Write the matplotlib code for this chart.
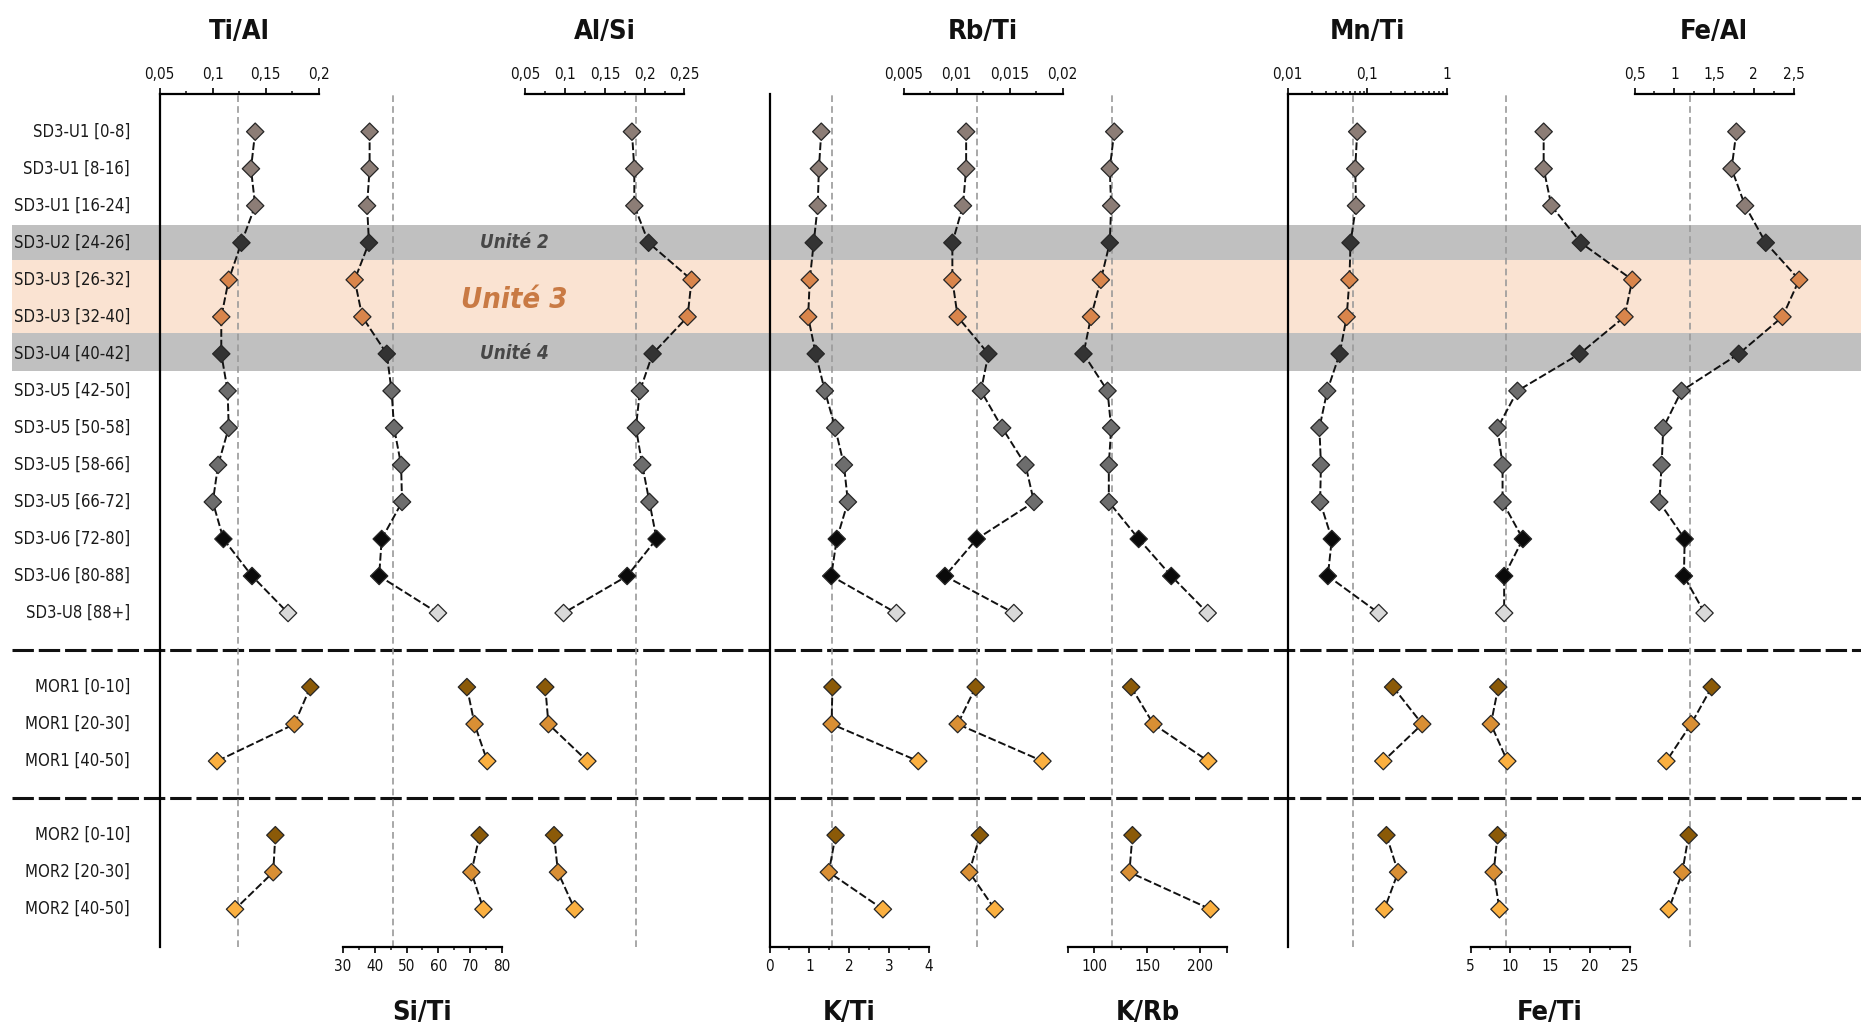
import os
import matplotlib
matplotlib.use('Agg')
import matplotlib.pyplot as plt
import matplotlib.font_manager as fm
from matplotlib.font_manager import FontProperties
from matplotlib.ticker import FixedLocator, FixedFormatter, NullFormatter
import numpy as np

# ---------------- data ----------------
sd3_labels = ['SD3-U1 [0-8]', 'SD3-U1 [8-16]', 'SD3-U1 [16-24]', 'SD3-U2 [24-26]',
              'SD3-U3 [26-32]', 'SD3-U3 [32-40]', 'SD3-U4 [40-42]', 'SD3-U5 [42-50]',
              'SD3-U5 [50-58]', 'SD3-U5 [58-66]', 'SD3-U5 [66-72]', 'SD3-U6 [72-80]',
              'SD3-U6 [80-88]', 'SD3-U8 [88+]']
mor1_labels = ['MOR1 [0-10]', 'MOR1 [20-30]', 'MOR1 [40-50]']
mor2_labels = ['MOR2 [0-10]', 'MOR2 [20-30]', 'MOR2 [40-50]']

# values in order: 14 SD3 rows, 3 MOR1 rows, 3 MOR2 rows
ti_al = [0.140, 0.136, 0.140, 0.127, 0.115, 0.108, 0.108, 0.114, 0.115, 0.105, 0.100, 0.110, 0.137, 0.171,
         0.192, 0.177, 0.104, 0.159, 0.157, 0.121]
si_ti = [38.4, 38.4, 37.6, 38.2, 33.7, 36.1, 43.8, 45.3, 46.1, 48.3, 48.6, 42.2, 41.4, 59.9,
         69.0, 71.4, 75.4, 73.0, 70.4, 74.2]
al_si = [0.184, 0.187, 0.187, 0.205, 0.259, 0.254, 0.210, 0.194, 0.189, 0.197, 0.206, 0.215, 0.178, 0.098,
         0.075, 0.079, 0.128, 0.086, 0.091, 0.112]
k_ti = [1.30, 1.24, 1.21, 1.11, 1.01, 0.97, 1.16, 1.39, 1.65, 1.87, 1.97, 1.69, 1.55, 3.19,
        1.58, 1.56, 3.74, 1.66, 1.49, 2.85]
rb_ti = [0.0109, 0.0109, 0.0106, 0.0096, 0.0096, 0.0101, 0.0130, 0.0123, 0.0143, 0.0165, 0.0173, 0.0119, 0.0089, 0.0154,
         0.0118, 0.0101, 0.0181, 0.0122, 0.0112, 0.0136]
k_rb = [118.7, 114.5, 115.8, 114.5, 106.1, 96.8, 89.7, 112.4, 115.8, 113.6, 113.6, 141.8, 172.5, 206.9,
        134.7, 155.7, 207.4, 135.9, 133.0, 209.5]
mn_ti = [0.0746, 0.0705, 0.0721, 0.0615, 0.0596, 0.0550, 0.0449, 0.0313, 0.0250, 0.0261, 0.0255, 0.0358, 0.0319, 0.139,
         0.211, 0.491, 0.159, 0.174, 0.244, 0.164]
fe_ti = [14.19, 14.19, 15.16, 18.86, 25.34, 24.36, 18.71, 10.89, 8.39, 9.02, 9.02, 11.58, 9.22, 9.22,
         8.48, 7.55, 9.62, 8.39, 7.90, 8.63]
fe_al = [1.78, 1.72, 1.89, 2.15, 2.57, 2.36, 1.81, 1.09, 0.86, 0.84, 0.81, 1.13, 1.12, 1.38,
         1.47, 1.21, 0.90, 1.18, 1.10, 0.93]

# reference (dashed) values
ref_values = {'Ti/Al': 0.124, 'Si/Ti': 45.8, 'Al/Si': 0.189, 'K/Ti': 1.56, 'Rb/Ti': 0.0119,
              'K/Rb': 117.0, 'Mn/Ti': 0.0667, 'Fe/Ti': 9.45, 'Fe/Al': 1.20}

sd3_colors = ['#8c7d76'] * 3 + ['#333333'] + ['#d9854b'] * 2 + ['#333333'] + ['#6d6d6d'] * 4 + \
             ['#0a0a0a'] * 2 + ['#d9d9d9']
mor_colors = ['#8b5a08', '#d98f34', '#fbb040']


# ---------------- fonts (condensed if available) ----------------
WEIGHT_WORDS = ['light', 'thin', 'medium', 'black', 'semibold', 'extrabold', 'heavy', 'demi',
                'extracondensed', 'ultracondensed', 'mono', 'serif', 'display']
PREFS = ['liberationsansnarrow', 'notosans-condensed', 'dejavusanscondensed', 'robotocondensed',
         'opensans-condensed', 'opensanscondensed', 'notosans-semicondensed', 'dejavusans-condensed']


def pick_font(bold, italic):
    best, best_rank = None, 99
    for f in fm.fontManager.ttflist:
        b = os.path.basename(f.fname).lower().replace(' ', '').replace('_', '-')
        if not ('condensed' in b or 'narrow' in b):
            continue
        if any(w in b for w in WEIGHT_WORDS):
            continue
        fb = 'bold' in b
        fi = ('italic' in b) or ('oblique' in b)
        if fb != bold or fi != italic:
            continue
        rank = next((k for k, p in enumerate(PREFS) if b.startswith(p)), None)
        if rank is None:
            continue
        if rank < best_rank:
            best, best_rank = f.fname, rank
    return best


def fprop(size, bold=False, italic=False):
    path = pick_font(bold, italic)
    if path:
        return FontProperties(fname=path, size=size)
    return FontProperties(family=['Liberation Sans', 'DejaVu Sans'], size=size * 0.86,
                          weight='bold' if bold else 'normal', style='italic' if italic else 'normal')


fp_row = fprop(12)
fp_tick = fprop(11)
fp_title = fprop(19.5, bold=True)
fp_unit = fprop(13.5, bold=True, italic=True)
fp_unit3 = fprop(21, bold=True, italic=True)

# ---------------- layout ----------------
W, H = 1861, 1032
fig = plt.figure(figsize=(W / 100, H / 100), dpi=100)

AX_TOP_PX, AX_BOT_PX = 94.3, 947.0
Y_TOP, Y_BOT = -1.01, 22.02
ppr = (AX_BOT_PX - AX_TOP_PX) / (Y_BOT - Y_TOP)
AXW = 159.0

sd3_y = np.arange(14)
mor1_y = np.arange(15, 18)
mor2_y = np.arange(19, 22)
all_y = list(sd3_y) + list(mor1_y) + list(mor2_y)

bg = fig.add_axes([0, 0, 1, 1], zorder=0)
bg.set_xlim(0, W)
bg.set_ylim(Y_BOT + (H - AX_BOT_PX) / ppr, Y_TOP - AX_TOP_PX / ppr)
bg.axis('off')

# bands
bg.axhspan(2.53, 3.47, xmin=12 / W, xmax=1, color='#c0c0c0', lw=0, zorder=0)
bg.axhspan(3.47, 5.45, xmin=12 / W, xmax=1, color='#fae3d2', lw=0, zorder=0)
bg.axhspan(5.45, 6.46, xmin=12 / W, xmax=1, color='#c0c0c0', lw=0, zorder=0)
# separators
for ysep in (14, 18):
    bg.axhline(ysep, xmin=12 / W, xmax=1, color='#111111', lw=2.2, ls=(0, (7, 1.6)), zorder=1)

# row labels
for lab, y in zip(sd3_labels + mor1_labels + mor2_labels, all_y):
    bg.text(130, y, lab, ha='right', va='center', fontproperties=fp_row, color='#1a1a1a', zorder=2)

bg.text(514, 3, 'Unité 2', ha='center', va='center', fontproperties=fp_unit, color='#474747', zorder=2)
bg.text(514, 6, 'Unité 4', ha='center', va='center', fontproperties=fp_unit, color='#474747', zorder=2)
bg.text(514, 4.55, 'Unité 3', ha='center', va='center', fontproperties=fp_unit3, color='#c97a44', zorder=2)

variables = [
    # name, values, left px, lims, position, ticks, ticklabels, minor, log, show_left
    ('Ti/Al', ti_al, 159.8, (0.05, 0.2), 'top', [0.05, 0.1, 0.15, 0.2], ['0,05', '0,1', '0,15', '0,2'],
     [0.075, 0.125, 0.175], False, True),
    ('Si/Ti', si_ti, 342.9, (30, 80), 'bottom', [30, 40, 50, 60, 70, 80], ['30', '40', '50', '60', '70', '80'],
     [35, 45, 55, 65, 75], False, False),
    ('Al/Si', al_si, 525.4, (0.05, 0.25), 'top', [0.05, 0.1, 0.15, 0.2, 0.25],
     ['0,05', '0,1', '0,15', '0,2', '0,25'], [0.075, 0.125, 0.175, 0.225], False, False),
    ('K/Ti', k_ti, 769.6, (0, 4), 'bottom', [0, 1, 2, 3, 4], ['0', '1', '2', '3', '4'],
     [0.5, 1.5, 2.5, 3.5], False, True),
    ('Rb/Ti', rb_ti, 903.6, (0.005, 0.02), 'top', [0.005, 0.01, 0.015, 0.02],
     ['0,005', '0,01', '0,015', '0,02'], [0.0075, 0.0125, 0.0175], False, False),
    ('K/Rb', k_rb, 1067.9, (75, 225), 'bottom', [75, 100, 150, 200, 225], ['', '100', '150', '200', ''],
     [125, 175], False, False),
    ('Mn/Ti', mn_ti, 1287.8, (0.01, 1), 'top', [0.01, 0.1, 1], ['0,01', '0,1', '1'],
     None, True, True),
    ('Fe/Ti', fe_ti, 1470.6, (5, 25), 'bottom', [5, 10, 15, 20, 25], ['5', '10', '15', '20', '25'],
     [7.5, 12.5, 17.5, 22.5], False, False),
    ('Fe/Al', fe_al, 1634.6, (0.5, 2.5), 'top', [0.5, 1, 1.5, 2, 2.5], ['0,5', '1', '1,5', '2', '2,5'],
     [0.75, 1.25, 1.75, 2.25], False, False),
]

ax_bottom = 1 - AX_BOT_PX / H
ax_height = (AX_BOT_PX - AX_TOP_PX) / H
var_axes = []
for k, (name, vals, x0, lims, pos, ticks, tlabels, minor, log, show_left) in enumerate(variables):
    ax = fig.add_axes([x0 / W, ax_bottom, AXW / W, ax_height], zorder=2 + k)
    ax.set_facecolor('none')
    if log:
        ax.set_xscale('log')
    ax.set_xlim(*lims)
    ax.set_ylim(Y_BOT, Y_TOP)
    for s in ('left', 'right', 'top', 'bottom'):
        ax.spines[s].set_visible(False)
    ax.spines[pos].set_visible(True)
    ax.spines[pos].set_linewidth(1.6)
    if show_left:
        ax.spines['left'].set_visible(True)
        ax.spines['left'].set_linewidth(1.6)
    ax.yaxis.set_visible(False)
    ax.xaxis.set_ticks_position(pos)
    ax.xaxis.set_label_position(pos)
    ax.xaxis.set_major_locator(FixedLocator(ticks))
    ax.xaxis.set_major_formatter(FixedFormatter(tlabels))
    if minor is not None:
        ax.xaxis.set_minor_locator(FixedLocator(minor))
    ax.xaxis.set_minor_formatter(NullFormatter())
    ax.tick_params(which='major', length=4.5, width=1.3, direction='out', pad=4, colors='#111111')
    ax.tick_params(which='minor', length=2.5, width=1.1, direction='out', colors='#111111')
    for lbl in ax.get_xticklabels():
        lbl.set_fontproperties(fp_tick)

    ax.axvline(ref_values[name], color='#9a9a9a', lw=1.2, ls=(0, (4, 2.5)), zorder=1)

    v = np.array(vals)
    groups = [(sd3_y, v[:14], sd3_colors), (mor1_y, v[14:17], mor_colors), (mor2_y, v[17:20], mor_colors)]
    for yy, vv, cc in groups:
        ax.plot(vv, yy, color='#111111', lw=1.4, ls=(0, (4, 1.5)), zorder=3, clip_on=False)
        ax.scatter(vv, yy, marker='D', s=78, c=cc, edgecolors='#262626', linewidths=0.9,
                   zorder=4, clip_on=False)

    cx = (x0 + AXW / 2) / W
    ty = 1 - 32 / H if pos == 'top' else 1 - 1013 / H
    fig.text(cx, ty, name, ha='center', va='center', fontproperties=fp_title, color='#111111')
    var_axes.append(ax)

for ax in var_axes:
    for lbl in ax.get_xticklabels():
        lbl.set_fontproperties(fp_tick)

fig.savefig('out.png', dpi=100)
